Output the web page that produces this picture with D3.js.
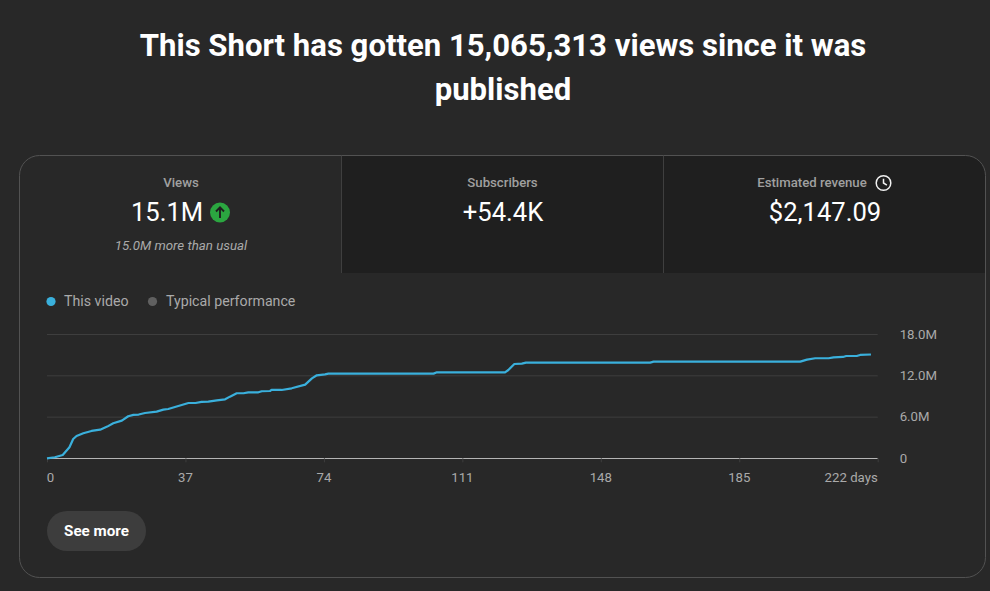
<!DOCTYPE html>
<html><head><meta charset="utf-8">
<script src="https://cdn.jsdelivr.net/npm/d3@7"></script>
<style>
html,body{margin:0;padding:0;background:#282828;overflow:hidden}
svg{display:block}
text{font-family:Roboto,sans-serif}
</style></head><body><svg id="c" width="990" height="591"></svg>
<script>
const titleLines=["This Short has gotten 15,065,313 views since it was","published"];
const metricLabels=["Views","Subscribers","Estimated revenue"];
const metricValues=["15.1M","+54.4K","$2,147.09"];
const legendLabels=["This video","Typical performance"];
const xTicks=[0,37,74,111,148,185,222];
const yTicks=[0,6,12,18];
const days=[0,2.1,4.2,6,7,7.9,9.7,11.9,14.2,16.1,17.7,20,21.7,23.1,24.5,26.2,29.3,31.1,32.4,35.1,37.8,39.7,41.3,43.1,45.4,47.6,48.9,50.7,52.5,53.8,56.5,57.4,59.6,60,62.7,65.4,69,70.8,72.1,74.3,75.2,103.3,104.2,122.4,123.3,124.9,126.9,128,161.2,162.1,201.3,203.1,205.3,208.9,210.2,212.7,213.6,216.4,217.3,220.2];
const views=[0,0.15,0.48,1.6,2.8,3.24,3.63,3.97,4.16,4.6,5.08,5.47,6.1,6.3,6.35,6.58,6.77,7.06,7.16,7.6,8.03,8.03,8.18,8.23,8.42,8.56,8.95,9.44,9.44,9.58,9.58,9.73,9.77,9.92,9.92,10.16,10.69,11.6,12.05,12.19,12.29,12.29,12.48,12.48,12.82,13.69,13.74,13.89,13.89,14.03,14.03,14.32,14.52,14.52,14.66,14.71,14.85,14.85,15.0,15.07];

const svg=d3.select("#c");
const C={line:"#3ab0dc",border:"#525252",muted:"#aaaaaa",dim:"#a0a0a0",white:"#ffffff"};

// title
svg.selectAll("text.title").data(titleLines).join("text").attr("class","title")
 .attr("x",503).attr("y",(d,i)=>56+i*43.5).attr("text-anchor","middle")
 .attr("font-size",31.1).attr("font-weight",700).attr("fill",C.white).text(d=>d);

// card
const L=19.5,T=155.5,R=985.5,B=577.5,r=20;
svg.append("path").attr("fill","#1f1f1f")
 .attr("d",`M341.5 ${T}H${R-r}A${r} ${r} 0 0 1 ${R} ${T+r}V273H341.5Z`);
svg.append("rect").attr("x",L).attr("y",T).attr("width",R-L).attr("height",B-T).attr("rx",r)
 .attr("fill","none").attr("stroke",C.border);
[341.5,663.5].forEach(x=>svg.append("line").attr("x1",x).attr("x2",x).attr("y1",T).attr("y2",273).attr("stroke","#3f3f3f"));

// metrics
const labelX=[181,502.5,812];
svg.selectAll("text.ml").data(metricLabels).join("text").attr("class","ml")
 .attr("x",(d,i)=>labelX[i]).attr("y",187).attr("text-anchor","middle")
 .attr("font-size",13.2).attr("font-weight",500).attr("fill",C.dim).text(d=>d);
const valX=[167,503,825];
svg.selectAll("text.mv").data(metricValues).join("text").attr("class","mv")
 .attr("x",(d,i)=>valX[i]).attr("y",221).attr("text-anchor","middle")
 .attr("font-size",25.6).attr("fill",C.white).text(d=>d);
svg.append("text").attr("x",181).attr("y",250).attr("text-anchor","middle")
 .attr("font-size",13.3).attr("font-style","italic").attr("fill",C.muted).text("15.0M more than usual");

// up arrow badge
const up=svg.append("g").attr("transform","translate(220,212.5)");
up.append("circle").attr("r",10).attr("fill","#2ba640");
up.append("path").attr("d","M0 5.5V-5M-4 -1L0 -5.2L4 -1").attr("fill","none").attr("stroke","#1f1f1f").attr("stroke-width",1.9);
// clock icon
const ck=svg.append("g").attr("transform","translate(883.5,183)");
ck.append("circle").attr("r",7.3).attr("fill","none").attr("stroke","#f1f1f1").attr("stroke-width",1.5);
ck.append("path").attr("d","M0 -4.2V0L3.4 2.1").attr("fill","none").attr("stroke","#f1f1f1").attr("stroke-width",1.5);

// legend
const legX=[51,152.5],legT=[64,166],legC=[C.line,"#606060"];
legendLabels.forEach((t,i)=>{
 svg.append("circle").attr("cx",legX[i]).attr("cy",301.5).attr("r",4.6).attr("fill",legC[i]);
 svg.append("text").attr("x",legT[i]).attr("y",306).attr("font-size",14.2).attr("fill",C.muted).text(t);
});

// chart
const x=d3.scaleLinear().domain([0,222]).range([47,877.7]);
const y=d3.scaleLinear().domain([0,18]).range([458,334]);
const fmtY=v=>v===0?"0":v.toFixed(1)+"M";

const gy=svg.append("g").attr("transform","translate(877.7,0)")
 .call(d3.axisRight(y).tickValues(yTicks).tickSize(0).tickPadding(22).tickFormat(fmtY));
gy.select(".domain").remove();
gy.selectAll("text").attr("font-size",13.2).attr("fill",C.muted).style("font-family","Roboto,sans-serif");
gy.selectAll(".tick").append("line").attr("x1",-(877.7-47)).attr("x2",0)
 .attr("stroke",d=>d===0?"#b5b5b5":"#3e3e3e");

const gx=svg.append("g").attr("transform","translate(0,458.3)")
 .call(d3.axisBottom(x).tickValues(xTicks).tickSize(4).tickPadding(10).tickFormat(d=>d===222?"222 days":d));
gx.select(".domain").remove();
gx.selectAll("line").attr("stroke","#3e3e3e");
gx.selectAll("text").attr("font-size",13.2).attr("fill",C.muted).style("font-family","Roboto,sans-serif")
 .attr("text-anchor",d=>d===222?"end":"middle").attr("dx",d=>d===0?3:-0.5);

const line=d3.line().x(i=>x(days[i])).y(i=>y(views[i]));
svg.append("path").attr("d",line(d3.range(days.length))).attr("fill","none")
 .attr("transform","translate(0,0.3)")
 .attr("stroke",C.line).attr("stroke-width",2.2).attr("stroke-linejoin","round");

// button
svg.append("rect").attr("x",47).attr("y",511).attr("width",99).attr("height",40).attr("rx",20).attr("fill","#3d3d3d");
svg.append("text").attr("x",96.5).attr("y",536).attr("text-anchor","middle").attr("font-size",15.2).attr("font-weight",700).attr("fill",C.white).text("See more");
</script></body></html>
